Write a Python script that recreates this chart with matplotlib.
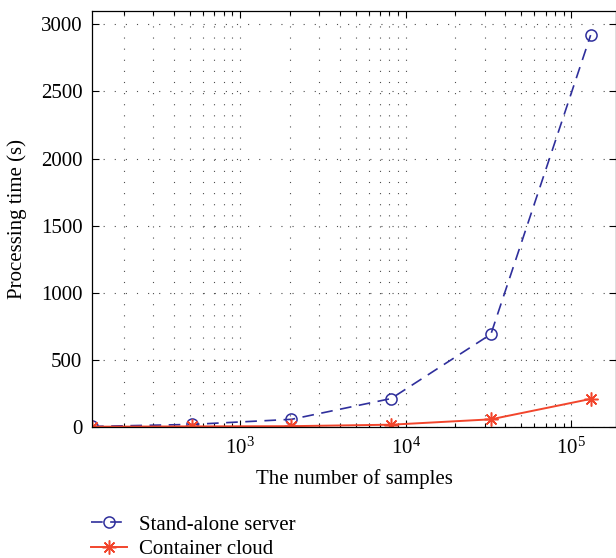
import matplotlib.pyplot as plt
from matplotlib.ticker import LogLocator, NullFormatter

# data
samples = [128, 512, 2048, 8192, 32768, 131072]
standalone = [2, 17, 55, 210, 690, 2920]
container = [0, 2, 4, 15, 55, 207]

plt.rcParams['font.family'] = ['Liberation Serif', 'DejaVu Serif']
plt.rcParams['mathtext.fontset'] = 'stix'

fig = plt.figure(figsize=(6.16, 5.58), dpi=100)
ax = fig.add_axes([0.1494, 0.2353, 0.8506, 0.7450])

ax.plot(samples, standalone, color='#2f2f9c', linestyle=(0, (7, 4.5)), linewidth=1.2,
        marker='o', markersize=8, markerfacecolor='none', markeredgewidth=1.1,
        label='Stand-alone server')
ax.plot(samples, container, color='#f2452c', linestyle='-', linewidth=1.4,
        marker=(8, 2, 0), markersize=10, markeredgewidth=1.1,
        label='Container cloud')

ax.set_xscale('log')
ax.set_xlim(128, 1.865e5)
ax.set_ylim(0, 3100)
ax.set_yticks([0, 500, 1000, 1500, 2000, 2500, 3000])
ax.xaxis.set_major_locator(LogLocator(base=10, numticks=10))
ax.xaxis.set_minor_locator(LogLocator(base=10, subs=range(2, 10), numticks=20))
ax.xaxis.set_minor_formatter(NullFormatter())

ax.grid(True, which='major', color='0.3', linestyle=(0, (1, 9)), linewidth=0.8)
ax.grid(True, which='minor', axis='x', color='0.3', linestyle=(0, (1, 9)), linewidth=0.8)

ax.tick_params(which='both', direction='in', top=True, right=True, labelsize=15, width=0.8)
ax.tick_params(which='major', length=5)
ax.tick_params(which='minor', length=3)
ax.tick_params(axis='x', which='major', pad=8)
ax.tick_params(axis='y', which='major', pad=7)
for s in ax.spines.values():
    s.set_linewidth(0.9)

ax.set_xlabel('The number of samples', fontsize=15, labelpad=7)
ax.set_ylabel('Processing time (s)', fontsize=15, labelpad=10)

fig.legend(loc='upper left', bbox_to_anchor=(0.135, 0.092), frameon=False,
           fontsize=15, handlelength=1.7, handletextpad=0.6, labelspacing=0.25,
           numpoints=1, borderaxespad=0)

fig.savefig('out.png', dpi=100)
